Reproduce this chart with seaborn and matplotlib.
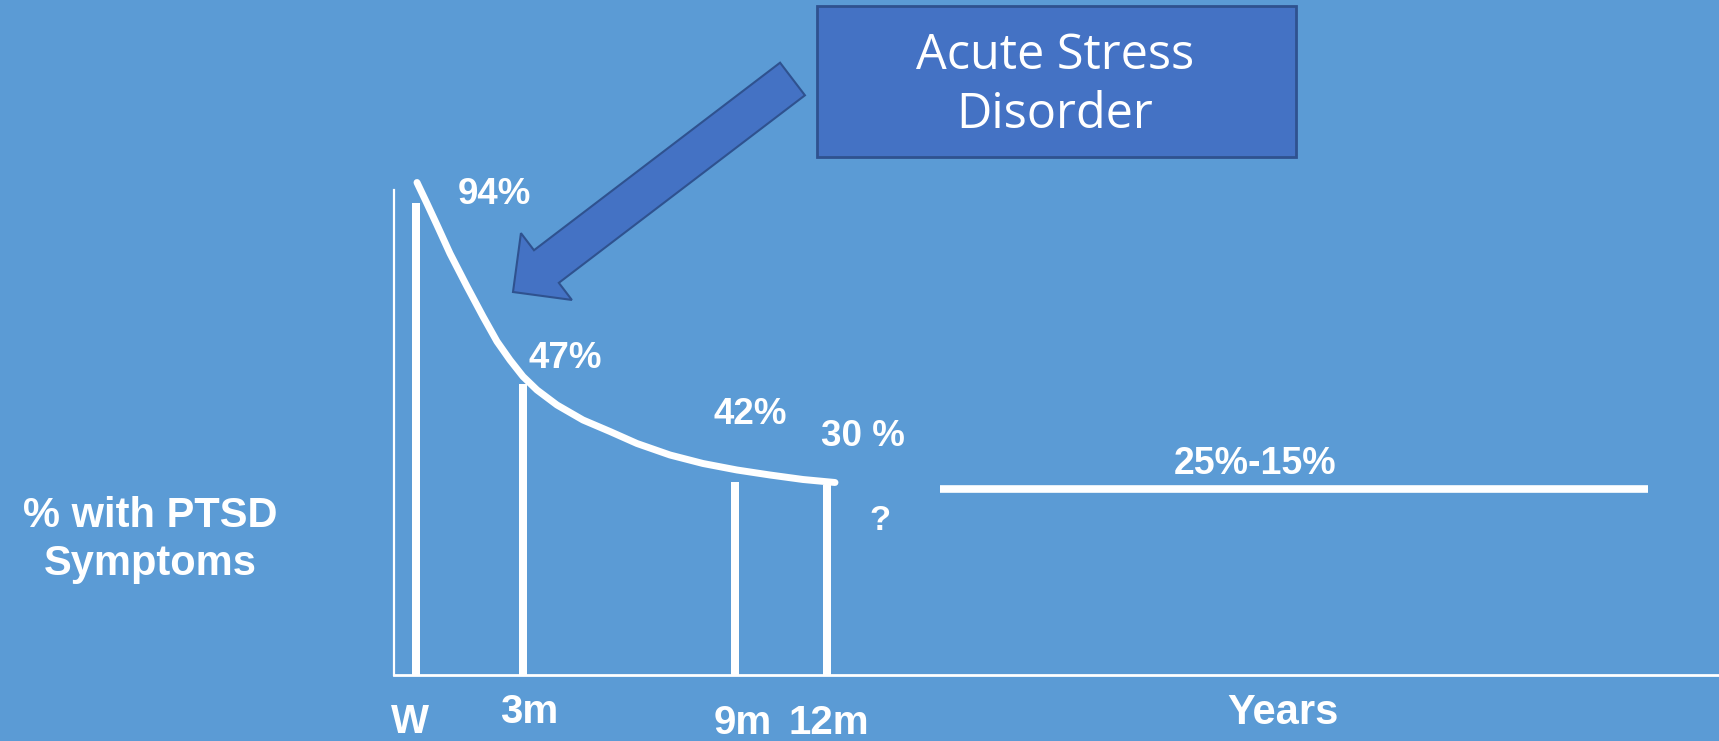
import matplotlib
matplotlib.use("Agg")
import matplotlib.pyplot as plt
import seaborn as sns
from matplotlib.patches import Rectangle, FancyArrow

# ---- data ----
time_labels = ["W", "3m", "9m", "12m"]
time_pos = [0.22, 1.29, 3.41, 4.33]
bar_heights = [94.4, 58.2, 38.6, 38.0]
pct_labels = ["94%", "47%", "42%", "30 %"]

# decay curve
curve_x = [0.23, 0.33, 0.43, 0.56, 0.73, 0.89, 1.03, 1.16, 1.29, 1.43,
           1.63, 1.89, 2.16, 2.43, 2.76, 3.09, 3.43, 3.76, 4.09, 4.41]
curve_y = [98.5, 94.3, 90.0, 84.3, 77.7, 71.7, 66.7, 63.0, 59.7, 57.0,
           54.0, 51.0, 48.7, 46.3, 44.0, 42.3, 41.0, 40.0, 39.1, 38.5]

years_span = [5.46, 12.54]
years_level = 37.2
years_range = "25%-15%"

# colours
bg = "#5B9BD5"
box_fill = "#4472C4"
box_edge = "#2F528F"

sns.set_theme(style="white")
plt.rcParams["font.family"] = ["Liberation Sans", "DejaVu Sans"]

fig = plt.figure(figsize=(17.19, 7.41), dpi=100, facecolor=bg)
ax = fig.add_axes([394 / 1719, (741 - 675) / 741, (1719 - 394) / 1719, (675 - 190) / 741])
ax.set_facecolor(bg)
ax.set_xlim(0, 13.25)
ax.set_ylim(0, 97)
ax.set_xticks([])
ax.set_yticks([])
for side in ["top", "right"]:
    ax.spines[side].set_visible(False)
ax.spines["left"].set_color("white")
ax.spines["left"].set_linewidth(1.6)
ax.spines["bottom"].set_color("white")
ax.spines["bottom"].set_linewidth(2.0)

# bars
ax.bar(time_pos, bar_heights, width=0.08, color="white", linewidth=0, zorder=3)

# curve and long-term line
sns.lineplot(x=curve_x, y=curve_y, color="white", linewidth=5, sort=False,
             ax=ax, clip_on=False, zorder=4)
sns.lineplot(x=years_span, y=[years_level] * 2, color="white", linewidth=5.5,
             ax=ax, solid_capstyle="butt", zorder=4)

lbl = dict(color="white", fontweight="bold", ha="center", va="center", clip_on=False)

# value labels
pct_xy = [(1.00, 96.2), (1.71, 63.4), (3.56, 52.2), (4.69, 47.6)]
for (x, y), t in zip(pct_xy, pct_labels):
    ax.text(x, y, t, fontsize=26.5, **lbl)
ax.text(8.61, 42.2, years_range, fontsize=27, **lbl)
ax.text(4.86, 31, "?", fontsize=25, **lbl)

# time labels under the axis
tick_dx = [-0.06, 0.06, 0.08, 0.02]
tick_y = [-9.4, -7.4, -9.6, -9.6]
for x, dx, y, t in zip(time_pos, tick_dx, tick_y, time_labels):
    ax.text(x + dx, y, t, fontsize=29, **lbl)
ax.text(8.89, -7.6, "Years", fontsize=30, **lbl)

# overlay in pixel space for the callout
ov = fig.add_axes([0, 0, 1, 1], zorder=5)
ov.set_xlim(0, 1719)
ov.set_ylim(741, 0)
ov.axis("off")

ov.text(150, 540, "% with PTSD\nSymptoms", fontsize=30, linespacing=1.25, **lbl)

ov.add_patch(Rectangle((817, 6), 479, 151, facecolor=box_fill, edgecolor=box_edge, linewidth=2))
ov.text(1055, 86, "Acute Stress\nDisorder", fontsize=35, color="white", ha="center",
        va="center", linespacing=1.25, family=["Open Sans", "DejaVu Sans"])

ov.add_patch(FancyArrow(792.5, 79, -279.5, 213, width=41, head_width=84, head_length=42,
                        length_includes_head=True, facecolor=box_fill, edgecolor=box_edge,
                        linewidth=1.5))

fig.savefig("out.png", dpi=100, facecolor=bg)
